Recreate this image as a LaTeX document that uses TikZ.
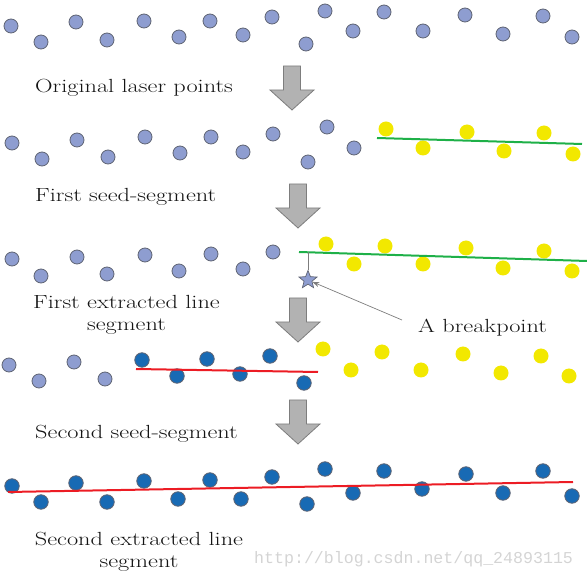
\documentclass[tikz,border=0pt]{standalone}
\usepackage{fontspec}
\setmainfont{Latin Modern Roman}[FakeStretch=1.28]
\newfontfamily\wmfont{Liberation Mono}
\usetikzlibrary{shapes.geometric,arrows.meta}
\definecolor{ptblue}{RGB}{142,157,208}
\definecolor{ptedge}{RGB}{95,100,115}
\definecolor{ptyellow}{RGB}{242,232,0}
\definecolor{ptdark}{RGB}{24,106,180}
\definecolor{lngreen}{RGB}{30,176,72}
\definecolor{lnred}{RGB}{236,28,36}
\definecolor{arrfill}{RGB}{178,178,178}
\definecolor{arredge}{RGB}{125,125,125}
\definecolor{txt}{RGB}{20,20,20}
\definecolor{wm}{RGB}{212,212,212}
\tikzset{
  lp/.style={circle,inner sep=0pt,minimum size=14pt,fill=ptblue,draw=ptedge,line width=0.8pt},
  yp/.style={circle,inner sep=0pt,minimum size=15pt,fill=ptyellow},
  dp/.style={circle,inner sep=0pt,minimum size=14.5pt,fill=ptdark,draw=ptedge,line width=0.8pt},
  gline/.style={draw=lngreen,line width=2pt},
  rline/.style={draw=lnred,line width=2pt},
  lbl/.style={inner sep=0pt,text=txt,font=\fontsize{19}{22}\selectfont},
  downarrow/.pic={\draw[fill=arrfill,draw=arredge,line width=0.8pt,line join=miter]
     (-8.5,0) -- (8.5,0) -- (8.5,24) -- (22,24) -- (0,44) -- (-22,24) -- (-8.5,24) -- cycle;}
}
\begin{document}
\begin{tikzpicture}[x=1pt,y=-1pt]
\useasboundingbox (0,0) rectangle (587,577);
% row 1
\foreach \x/\y [count=\i] in {11/26,41/42,76/22,107/40,144/21,179/37,210/21,243/35,272/17,306/44,325/11,353/31,384/12,423/31,465/15,503/34,543/16,572/37}
  \node[lp] (a\i) at (\x,\y) {};
\node[lbl,anchor=base west] (t1) at (35,93) {Original laser points};
\pic at (292,66) {downarrow};
% row 2
\foreach \x/\y [count=\i] in {12/143,42/159,77/140,108/157,145/137,180/153,211/137,243/152,273/134,308/162,327/127,354/148}
  \node[lp] (b\i) at (\x,\y) {};
\foreach \x/\y [count=\i] in {386/129,423/148,467/132,504/151,544/133,573/154}
  \node[yp] (by\i) at (\x,\y) {};
\coordinate (g1s) at (377,138);
\coordinate (g1e) at (582,144);
\draw[gline] (g1s) -- (g1e);
\node[lbl,anchor=base west] (t2) at (35,202) {First seed-segment};
\pic at (298,184) {downarrow};
% row 3
\foreach \x/\y [count=\i] in {12/259,41/276,77/257,107/274,145/255,179/271,211/254,243/269,273/252}
  \node[lp] (c\i) at (\x,\y) {};
\foreach \x/\y [count=\i] in {326/244,354/264,385/246,423/264,466/248,503/268,544/251,572/271}
  \node[yp] (cy\i) at (\x,\y) {};
\coordinate (g2s) at (299,252);
\coordinate (g2e) at (587,261);
\draw[gline] (g2s) -- (g2e);
\node[star,star points=5,star point ratio=2.3,minimum size=19pt,inner sep=0pt,fill=ptblue,draw=ptedge,line width=0.7pt] (bp) at (308,280) {};
\coordinate (bptop) at (308,252.3);
\draw[arredge,line width=0.7pt] (bptop) -- (bp);
\node[lbl,anchor=base west] (bptext) at (418,333) {A breakpoint};
\coordinate (bparr) at (402,320);
\draw[arredge,line width=0.7pt,-{Stealth[length=7pt,width=5pt]}] (bparr) -- (bp);
\node[lbl,align=center] (t3) at (126.5,315) {First extracted line\\segment};
\pic at (298,298) {downarrow};
% row 4
\foreach \x/\y [count=\i] in {9/365,39/381,74/362,105/379}
  \node[lp] (d\i) at (\x,\y) {};
\foreach \x/\y [count=\i] in {142/360,177/376,207/359,240/374,270/356,304/383}
  \node[dp] (dd\i) at (\x,\y) {};
\foreach \x/\y [count=\i] in {323/349,351/370,382/352,421/370,463/354,501/373,541/356,569/376}
  \node[yp] (dy\i) at (\x,\y) {};
\coordinate (r1s) at (136,369);
\coordinate (r1e) at (318,372);
\draw[rline] (r1s) -- (r1e);
\node[lbl,anchor=base west] (t4) at (35,439) {Second seed-segment};
\pic at (298,400) {downarrow};
% row 5
\foreach \x/\y [count=\i] in {12/486,41/502,76/483,107/502,144/481,178/499,210/480,241/499,272/477,307/504,325/469,353/493,384/471,422/489,466/474,503/493,543/471,572/496}
  \node[dp] (e\i) at (\x,\y) {};
\coordinate (r2s) at (8,492);
\coordinate (r2e) at (573,482);
\draw[rline] (r2s) -- (r2e);
\node[lbl,align=center] (t5) at (139,552) {Second extracted line\\segment};
% watermark
\node[inner sep=0pt,anchor=base west,text=wm,font=\wmfont\fontsize{16.6}{18}\selectfont] (wmk) at (254,563) {http://blog.csdn.net/qq\_24893115};
\end{tikzpicture}
\end{document}
